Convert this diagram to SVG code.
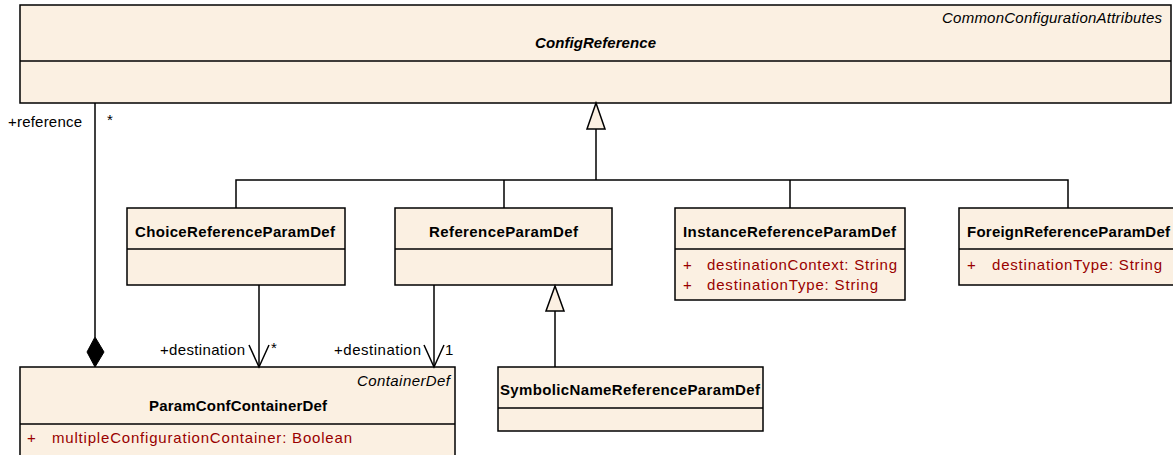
<svg xmlns="http://www.w3.org/2000/svg" width="1173" height="455" viewBox="0 0 1173 455">
<style>
.box{fill:#FBF0E2;stroke:#000;stroke-width:1.5}
.ln{fill:none;stroke:#000;stroke-width:1.5}
text{font-family:"Liberation Sans",Arial,sans-serif;font-size:15px}
.t{font-weight:bold;fill:#000}
.st{font-style:italic;fill:#000}
.a{fill:#990000}
.lb{fill:#000}
</style>
<rect width="1173" height="455" fill="#fff"/>
<g id="ConfigReference">
<rect class="box" x="20" y="5" width="1151" height="98"/>
<line class="ln" x1="20" y1="61" x2="1171" y2="61"/>
<text class="st" x="942" y="23" textLength="220" lengthAdjust="spacing">CommonConfigurationAttributes</text>
<text class="t" x="535" y="48" font-style="italic" textLength="121" lengthAdjust="spacing">ConfigReference</text>
</g>
<g id="ChoiceReferenceParamDef">
<rect class="box" x="127" y="208" width="218" height="77"/>
<line class="ln" x1="127" y1="249" x2="345" y2="249"/>
<text class="t" x="135" y="237" textLength="200" lengthAdjust="spacing">ChoiceReferenceParamDef</text>
</g>
<g id="ReferenceParamDef">
<rect class="box" x="395" y="208" width="217" height="77"/>
<line class="ln" x1="395" y1="249" x2="612" y2="249"/>
<text class="t" x="429" y="237" textLength="149" lengthAdjust="spacing">ReferenceParamDef</text>
</g>
<g id="InstanceReferenceParamDef">
<rect class="box" x="675" y="208" width="230" height="92"/>
<line class="ln" x1="675" y1="249" x2="905" y2="249"/>
<text class="t" x="683" y="237" textLength="213" lengthAdjust="spacing">InstanceReferenceParamDef</text>
<text class="a" x="683" y="270">+</text>
<text class="a" x="707" y="270" textLength="190" lengthAdjust="spacing">destinationContext:  String</text>
<text class="a" x="683" y="290">+</text>
<text class="a" x="707" y="290" textLength="171" lengthAdjust="spacing">destinationType:  String</text>
</g>
<g id="ForeignReferenceParamDef">
<rect class="box" x="959" y="208" width="225" height="77"/>
<line class="ln" x1="959" y1="249" x2="1184" y2="249"/>
<text class="t" x="967" y="237" textLength="203" lengthAdjust="spacing">ForeignReferenceParamDef</text>
<text class="a" x="967" y="270">+</text>
<text class="a" x="992" y="270" textLength="170" lengthAdjust="spacing">destinationType:  String</text>
</g>
<g id="ParamConfContainerDef">
<rect class="box" x="20" y="367" width="435" height="100"/>
<line class="ln" x1="20" y1="424" x2="455" y2="424"/>
<text class="st" x="357" y="386" textLength="93" lengthAdjust="spacing">ContainerDef</text>
<text class="t" x="149" y="411" textLength="178" lengthAdjust="spacing">ParamConfContainerDef</text>
<text class="a" x="27" y="443">+</text>
<text class="a" x="52" y="443" textLength="300" lengthAdjust="spacing">multipleConfigurationContainer:  Boolean</text>
</g>
<g id="SymbolicNameReferenceParamDef">
<rect class="box" x="498" y="367" width="265" height="64"/>
<line class="ln" x1="498" y1="408" x2="763" y2="408"/>
<text class="t" x="500" y="395" textLength="260" lengthAdjust="spacing">SymbolicNameReferenceParamDef</text>
</g>
<g id="connectors">
<polyline class="ln" points="236,208 236,180 1068,180 1068,208"/>
<line class="ln" x1="504" y1="180" x2="504" y2="208"/>
<line class="ln" x1="790" y1="180" x2="790" y2="208"/>
<line class="ln" x1="596" y1="129" x2="596" y2="180"/>
<polygon class="box" points="596,103 587,129 605,129"/>
<line class="ln" x1="95" y1="103" x2="95" y2="337"/>
<polygon points="95,337 104,352 95,367 87,352" fill="#000" stroke="#000" stroke-width="1"/>
<line class="ln" x1="259" y1="285" x2="259" y2="367"/>
<polyline class="ln" points="249,345 259,367 269,345"/>
<line class="ln" x1="434" y1="285" x2="434" y2="367"/>
<polyline class="ln" points="424,345 434,367 444,345"/>
<line class="ln" x1="555" y1="311" x2="555" y2="367"/>
<polygon class="box" points="555,286 546,311 564,311"/>
<text class="lb" x="8" y="127" textLength="74" lengthAdjust="spacing">+reference</text>
<text class="lb" x="107" y="125">*</text>
<text class="lb" x="160" y="355" textLength="85" lengthAdjust="spacing">+destination</text>
<text class="lb" x="271" y="353">*</text>
<text class="lb" x="334" y="355" textLength="87" lengthAdjust="spacing">+destination</text>
<text class="lb" x="445" y="355">1</text>
</g>
</svg>
